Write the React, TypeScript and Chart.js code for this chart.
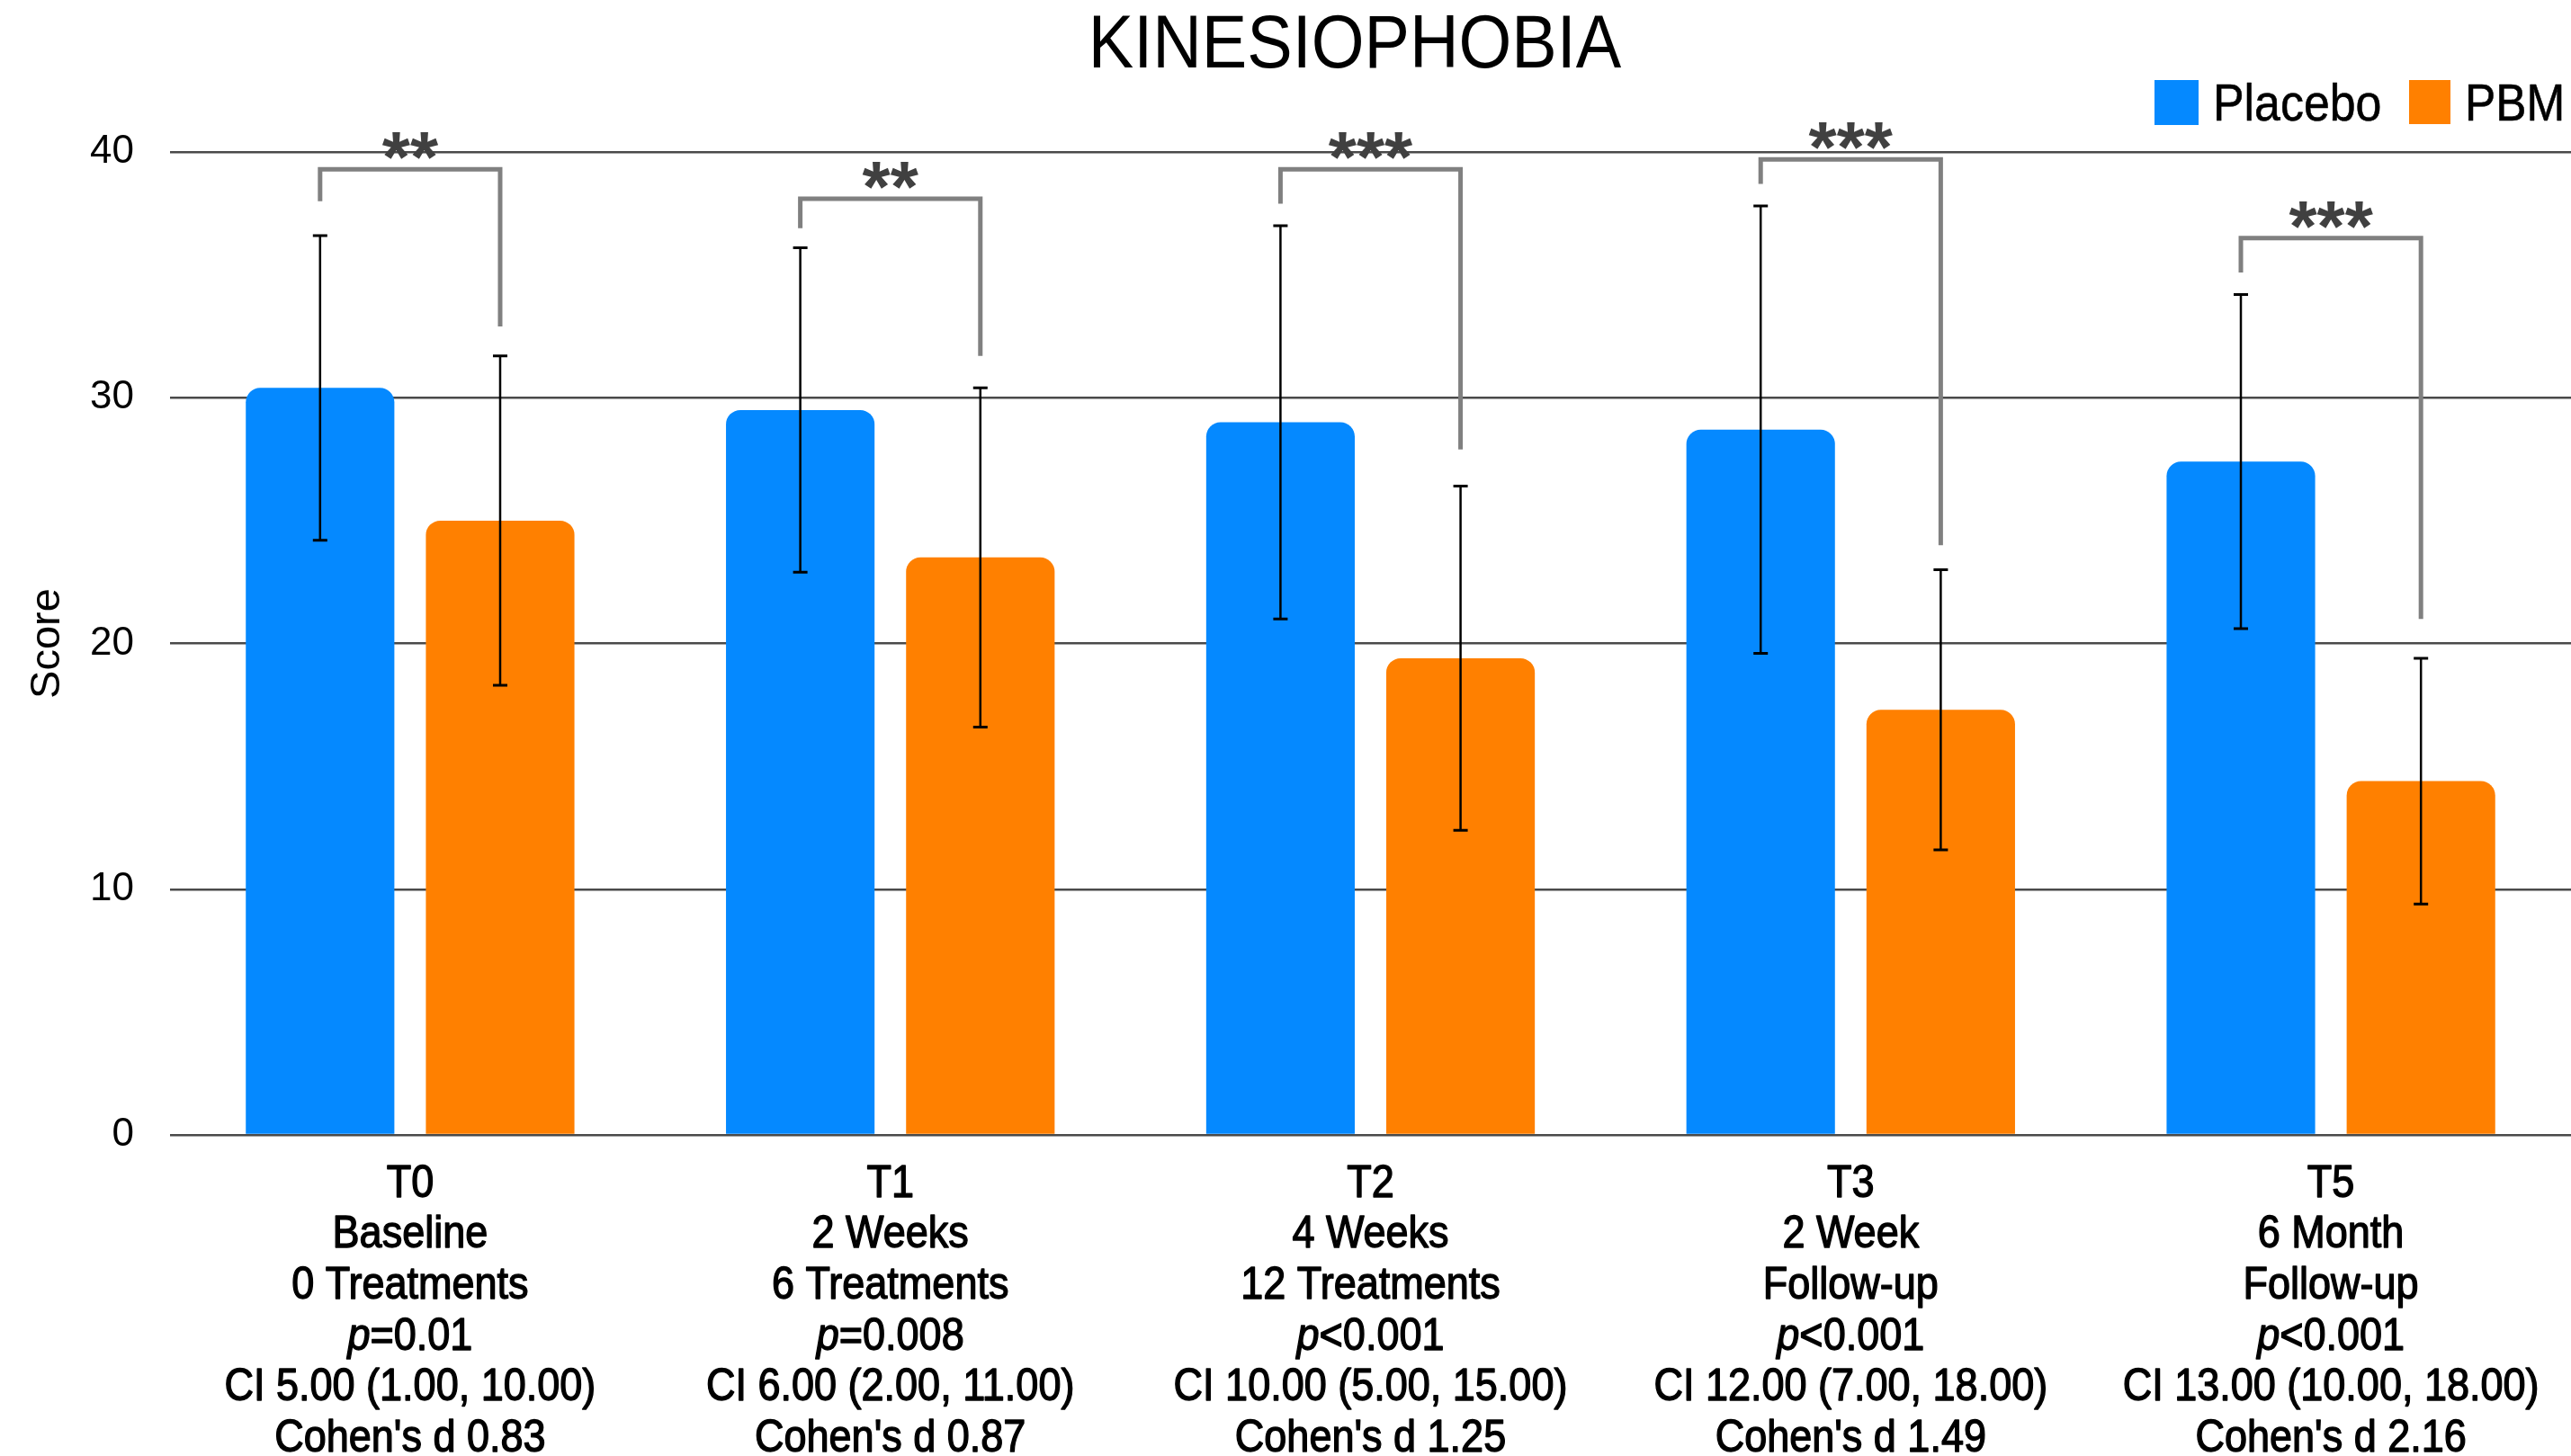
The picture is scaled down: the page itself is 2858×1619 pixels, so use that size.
import React, { useEffect, useRef } from "react";
import { Chart, registerables } from "chart.js";

Chart.register(...registerables);

// ---------- data ----------
const timePoints = ["T0", "T1", "T2", "T3", "T5"];
const periods = ["Baseline", "2 Weeks", "4 Weeks", "2 Week", "6 Month"];
const details = ["0 Treatments", "6 Treatments", "12 Treatments", "Follow-up", "Follow-up"];
const pValues = ["=0.01", "=0.008", "<0.001", "<0.001", "<0.001"];
const ciLabels = [
  "CI 5.00 (1.00, 10.00)",
  "CI 6.00 (2.00, 11.00)",
  "CI 10.00 (5.00, 15.00)",
  "CI 12.00 (7.00, 18.00)",
  "CI 13.00 (10.00, 18.00)",
];
const cohensD = ["0.83", "0.87", "1.25", "1.49", "2.16"];

const placeboMeans = [30.4, 29.5, 29.0, 28.7, 27.4];
const placeboSD = [6.2, 6.6, 8.0, 9.1, 6.8];
const pbmMeans = [25.0, 23.5, 19.4, 17.3, 14.4];
const pbmSD = [6.7, 6.9, 7.0, 5.7, 5.0];

const significance = ["**", "**", "***", "***", "***"];
const bracketTop = [39.3, 38.1, 39.3, 39.7, 36.5];
const bracketLeftEnd = [38.0, 36.9, 37.9, 38.7, 35.1];
const bracketRightEnd = [32.9, 31.7, 27.9, 24.0, 21.0];

const yTicks = [0, 10, 20, 30, 40];

const seriesNames = ["Placebo", "PBM"];
const BLUE = "#0589FF";
const ORANGE = "#FF8000";
const FONT = "'Liberation Sans', Arial, Helvetica, sans-serif";

function drawText(
  ctx: CanvasRenderingContext2D,
  text: string,
  x: number,
  y: number,
  font: string,
  sx: number,
  align: CanvasTextAlign,
  baseline: CanvasTextBaseline,
  color: string,
  stroke = 0
) {
  ctx.save();
  ctx.font = font;
  ctx.fillStyle = color;
  ctx.textAlign = align;
  ctx.textBaseline = baseline;
  ctx.translate(x, y);
  ctx.scale(sx, 1);
  ctx.fillText(text, 0, 0);
  if (stroke > 0) {
    ctx.strokeStyle = color;
    ctx.lineWidth = stroke;
    ctx.lineJoin = "round";
    ctx.strokeText(text, 0, 0);
  }
  ctx.restore();
}

const overlayPlugin = {
  id: "overlay",
  afterDatasetsDraw(chart: any) {
    const ctx: CanvasRenderingContext2D = chart.ctx;
    const ys = chart.scales.y;
    const metaP = chart.getDatasetMeta(0);
    const metaB = chart.getDatasetMeta(1);
    const groups: [any, number[], number[]][] = [
      [metaP, placeboMeans, placeboSD],
      [metaB, pbmMeans, pbmSD],
    ];
    ctx.save();
    ctx.strokeStyle = "#000";
    groups.forEach(([meta, means, sds]) => {
      meta.data.forEach((bar: any, i: number) => {
        const x = bar.x;
        const t = ys.getPixelForValue(means[i] + sds[i]);
        const b = ys.getPixelForValue(means[i] - sds[i]);
        ctx.lineWidth = 2.5;
        ctx.beginPath();
        ctx.moveTo(x, t);
        ctx.lineTo(x, b);
        ctx.stroke();
        ctx.lineWidth = 3;
        ctx.beginPath();
        ctx.moveTo(x - 8, t);
        ctx.lineTo(x + 8, t);
        ctx.moveTo(x - 8, b);
        ctx.lineTo(x + 8, b);
        ctx.stroke();
      });
    });
    // significance brackets
    ctx.strokeStyle = "#808080";
    ctx.lineWidth = 5;
    ctx.lineJoin = "miter";
    ctx.lineCap = "butt";
    timePoints.forEach((_, i) => {
      const xl = metaP.data[i].x;
      const xr = metaB.data[i].x;
      const yt = ys.getPixelForValue(bracketTop[i]);
      const yl = ys.getPixelForValue(bracketLeftEnd[i]);
      const yr = ys.getPixelForValue(bracketRightEnd[i]);
      ctx.beginPath();
      ctx.moveTo(xl, yl);
      ctx.lineTo(xl, yt);
      ctx.lineTo(xr, yt);
      ctx.lineTo(xr, yr);
      ctx.stroke();
      drawText(ctx, significance[i], (xl + xr) / 2, yt + 14, `bold 80px ${FONT}`, 1, "center", "alphabetic", "#404040");
    });
    ctx.restore();
  },
  afterDraw(chart: any) {
    const ctx: CanvasRenderingContext2D = chart.ctx;
    const xs = chart.scales.x;
    const area = chart.chartArea;

    // title
    drawText(ctx, "KINESIOPHOBIA", 1506, 75, `84px ${FONT}`, 0.9, "center", "alphabetic", "#000");

    // legend
    ctx.save();
    ctx.fillStyle = BLUE;
    ctx.fillRect(2395, 89, 49, 50);
    ctx.fillStyle = ORANGE;
    ctx.fillRect(2678, 89, 46, 49);
    ctx.restore();
    drawText(ctx, seriesNames[0], 2460, 134, `57px ${FONT}`, 0.91, "left", "alphabetic", "#000", 0.6);
    drawText(ctx, seriesNames[1], 2740, 134, `57px ${FONT}`, 0.9, "left", "alphabetic", "#000", 0.6);

    // category labels
    const fs = 50;
    const sx = 0.9;
    const font = `${fs}px ${FONT}`;
    const italic = `italic ${fs}px ${FONT}`;
    const step = 56.6;
    const y0 = area.bottom + 55;
    timePoints.forEach((tp, i) => {
      const cx = xs.getPixelForValue(i);
      const lines = [tp, periods[i], details[i], "", ciLabels[i], "Cohen's d " + cohensD[i]];
      lines.forEach((ln, k) => {
        const yy = y0 + k * step;
        if (k === 3) {
          ctx.save();
          ctx.font = italic;
          const wp = ctx.measureText("p").width * sx;
          ctx.font = font;
          const wr = ctx.measureText(pValues[i]).width * sx;
          ctx.restore();
          const start = cx - (wp + wr) / 2;
          drawText(ctx, "p", start, yy, italic, sx, "left", "middle", "#000", 1.4);
          drawText(ctx, pValues[i], start + wp, yy, font, sx, "left", "middle", "#000", 1.4);
        } else {
          drawText(ctx, ln, cx, yy, font, sx, "center", "middle", "#000", 1.4);
        }
      });
    });
  },
};

export default function App() {
  const ref = useRef<HTMLCanvasElement | null>(null);
  useEffect(() => {
    document.body.style.margin = "0";
    document.body.style.overflow = "hidden";
    if (!ref.current) return;
    const chart = new Chart(ref.current, {
      type: "bar",
      data: {
        labels: timePoints,
        datasets: [
          {
            label: seriesNames[0],
            data: placeboMeans,
            backgroundColor: BLUE,
            borderRadius: 16,
            borderSkipped: "start",
            categoryPercentage: 0.75,
            barPercentage: 0.825,
          },
          {
            label: seriesNames[1],
            data: pbmMeans,
            backgroundColor: ORANGE,
            borderRadius: 16,
            borderSkipped: "start",
            categoryPercentage: 0.75,
            barPercentage: 0.825,
          },
        ],
      },
      options: {
        responsive: false,
        devicePixelRatio: 1,
        animation: false,
        layout: { padding: { top: 169, right: 0, bottom: 0, left: 0 } },
        plugins: {
          legend: { display: false },
          title: { display: false },
          tooltip: { enabled: false },
        },
        scales: {
          x: {
            grid: { display: false },
            border: { display: false },
            ticks: { display: false },
            afterFit: (s: any) => {
              s.height = 357;
            },
          },
          y: {
            min: 0,
            max: 40,
            afterBuildTicks: (s: any) => {
              s.ticks = yTicks.map((v) => ({ value: v }));
            },
            ticks: {
              font: { family: FONT, size: 44 },
              color: "#000",
              padding: 40,
            },
            grid: { color: "#4a4a4a", lineWidth: 2.5, drawTicks: false },
            border: { display: false },
            title: {
              display: true,
              text: "Score",
              color: "#000",
              font: { family: FONT, size: 47 },
              padding: { top: 25, bottom: 0 },
            },
            afterFit: (s: any) => {
              s.width = 189;
            },
          },
        },
      },
      plugins: [overlayPlugin],
    });
    return () => chart.destroy();
  }, []);
  return <canvas ref={ref} width={2858} height={1619} style={{ display: "block" }} />;
}
